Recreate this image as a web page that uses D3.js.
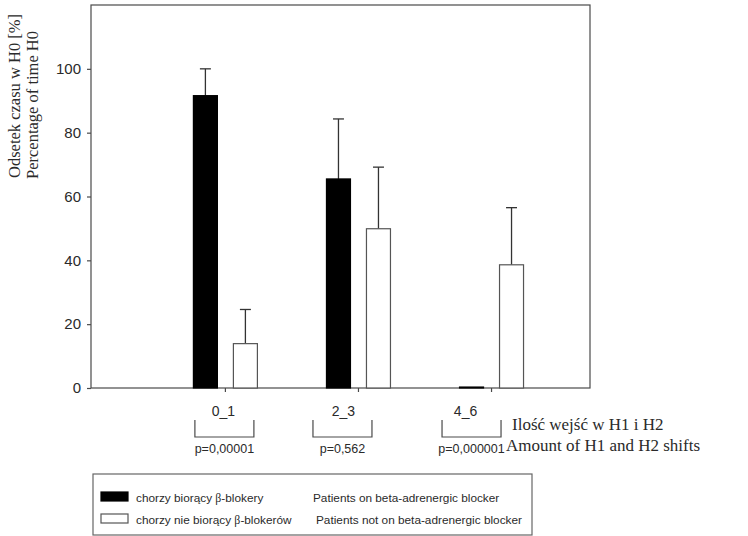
<!DOCTYPE html>
<html>
<head>
<meta charset="utf-8">
<script src="https://cdn.jsdelivr.net/npm/d3@7"></script>
<style>
  body { margin: 0; background: #fff; }
  svg { display: block; }
  .sans { font-family: "Liberation Sans", Arial, sans-serif; fill: #2a2a2a; }
  .serif { font-family: "Liberation Serif", "Times New Roman", serif; fill: #2a2a2a; }
</style>
</head>
<body>
<script>
// data
const groups = ["0_1", "2_3", "4_6"];
const onBlocker = [91.6, 65.5, 0.3];
const onBlockerErr = [8.4, 18.8, 0];
const notOnBlocker = [13.9, 49.9, 38.6];
const notOnBlockerErr = [10.7, 19.3, 17.9];
const pValues = ["p=0,00001", "p=0,562", "p=0,000001"];
const yTicks = [0, 20, 40, 60, 80, 100];

// small hand placed shifts of labels / brackets under each group (px)
const labelShift = [-2, -15, -26];
const bracketShift = [-1, -16, -20];

const w = 748, h = 536;
const plotL = 91, plotR = 590, plotT = 5, plotB = 388;

const svg = d3.select("body").append("svg")
  .attr("width", w)
  .attr("height", h);

const x = d3.scaleLinear().domain([-0.01, 3.74]).range([plotL, plotR]);
const y = d3.scaleLinear().domain([0, 120]).range([plotB, plotT]);

const lineCol = "#4a4a4a";
const barW = 24, barOff = 20;

// frame
svg.append("rect")
  .attr("x", plotL).attr("y", plotT)
  .attr("width", plotR - plotL).attr("height", plotB - plotT)
  .attr("fill", "none").attr("stroke", lineCol).attr("stroke-width", 1.2);

// y axis
const yAxis = d3.axisLeft(y).tickValues(yTicks).tickSize(4).tickPadding(6);
const yG = svg.append("g").attr("transform", `translate(${plotL},0)`).call(yAxis);
yG.attr("font-family", null).attr("font-size", null);
yG.select(".domain").remove();
yG.selectAll("line").attr("stroke", lineCol).attr("stroke-width", 1.2);
yG.selectAll("text").attr("class", "sans").style("font-size", "15px");

// x ticks
svg.selectAll(".xtick")
  .data(groups)
  .enter().append("line")
  .attr("x1", (d, i) => x(i + 1)).attr("x2", (d, i) => x(i + 1))
  .attr("y1", plotB).attr("y2", plotB + 4)
  .attr("stroke", lineCol).attr("stroke-width", 1.2);

svg.selectAll(".xlab")
  .data(groups)
  .enter().append("text")
  .attr("class", "sans")
  .attr("x", (d, i) => x(i + 1) + labelShift[i])
  .attr("y", 416)
  .attr("text-anchor", "middle")
  .style("font-size", "14px")
  .text(d => d);

// bars
function drawSeries(vals, errs, dx, fill) {
  const g = svg.append("g");
  g.selectAll("line.err")
    .data(vals)
    .enter().append("line")
    .filter((d, i) => errs[i] > 0)
    .attr("x1", (d, i) => x(i + 1) + dx)
    .attr("x2", (d, i) => x(i + 1) + dx)
    .attr("y1", d => y(d))
    .attr("y2", (d, i) => y(d + errs[i]))
    .attr("stroke", "#333").attr("stroke-width", 1.3);
  g.selectAll("line.cap")
    .data(vals)
    .enter().append("line")
    .filter((d, i) => errs[i] > 0)
    .attr("x1", (d, i) => x(i + 1) + dx - 5.5)
    .attr("x2", (d, i) => x(i + 1) + dx + 5.5)
    .attr("y1", (d, i) => y(d + errs[i]))
    .attr("y2", (d, i) => y(d + errs[i]))
    .attr("stroke", "#333").attr("stroke-width", 1.3);
  g.selectAll("rect")
    .data(vals)
    .enter().append("rect")
    .attr("x", (d, i) => x(i + 1) + dx - barW / 2)
    .attr("y", d => y(d))
    .attr("width", barW)
    .attr("height", d => y(0) - y(d))
    .attr("fill", fill)
    .attr("stroke", fill === "#000" ? "#000" : "#555")
    .attr("stroke-width", 1.2);
}
drawSeries(onBlocker, onBlockerErr, -barOff, "#000");
drawSeries(notOnBlocker, notOnBlockerErr, barOff, "#fff");

// brackets with p-values
const bw = 59;
svg.selectAll(".bracket")
  .data(pValues)
  .enter().append("path")
  .attr("d", (d, i) => {
    const cx = x(i + 1) + bracketShift[i];
    return `M${cx - bw / 2},420 V437 H${cx + bw / 2} V420`;
  })
  .attr("fill", "none").attr("stroke", lineCol).attr("stroke-width", 1.2);

svg.selectAll(".pval")
  .data(pValues)
  .enter().append("text")
  .attr("class", "sans")
  .attr("x", (d, i) => x(i + 1) + bracketShift[i])
  .attr("y", 453)
  .attr("text-anchor", "middle")
  .style("font-size", "12.5px")
  .text(d => d);

svg.append("text").attr("class", "serif")
  .attr("x", 512).attr("y", 430)
  .style("font-size", "17px")
  .text("Ilość wejść w H1 i H2");
svg.append("text").attr("class", "serif")
  .attr("x", 506).attr("y", 451)
  .style("font-size", "17px")
  .text("Amount of H1 and H2 shifts");

// y title
const yt = svg.append("g").attr("transform", "rotate(-90)");
yt.append("text").attr("class", "serif")
  .attr("x", -96).attr("y", 20)
  .attr("text-anchor", "middle")
  .style("font-size", "16.5px")
  .text("Odsetek czasu w H0 [%]");
yt.append("text").attr("class", "serif")
  .attr("x", -105).attr("y", 38)
  .attr("text-anchor", "middle")
  .style("font-size", "16.5px")
  .text("Percentage of time H0");

// legend
svg.append("rect")
  .attr("x", 93).attr("y", 474)
  .attr("width", 439).attr("height", 61)
  .attr("fill", "#fff").attr("stroke", "#666").attr("stroke-width", 1.2);

const legendRows = [
  { fill: "#000", pl: "chorzy biorący ", pl2: "-blokery", en: "Patients on beta-adrenergic blocker", enX: 313 },
  { fill: "#fff", pl: "chorzy nie biorący ", pl2: "-blokerów", en: "Patients not on beta-adrenergic blocker", enX: 316 }
];
legendRows.forEach((r, i) => {
  const yy = 492 + i * 22;
  svg.append("rect")
    .attr("x", 101).attr("y", yy)
    .attr("width", 27).attr("height", 9)
    .attr("fill", r.fill).attr("stroke", r.fill === "#000" ? "#000" : "#555").attr("stroke-width", 1.2);
  const t = svg.append("text").attr("class", "sans")
    .attr("x", 136).attr("y", yy + 10)
    .style("font-size", "11.8px");
  t.append("tspan").text(r.pl);
  t.append("tspan").attr("font-family", "'Liberation Serif', serif").text("β");
  t.append("tspan").text(r.pl2);
  svg.append("text").attr("class", "sans")
    .attr("x", r.enX).attr("y", yy + 10)
    .style("font-size", "11.8px")
    .text(r.en);
});
</script>
</body>
</html>
